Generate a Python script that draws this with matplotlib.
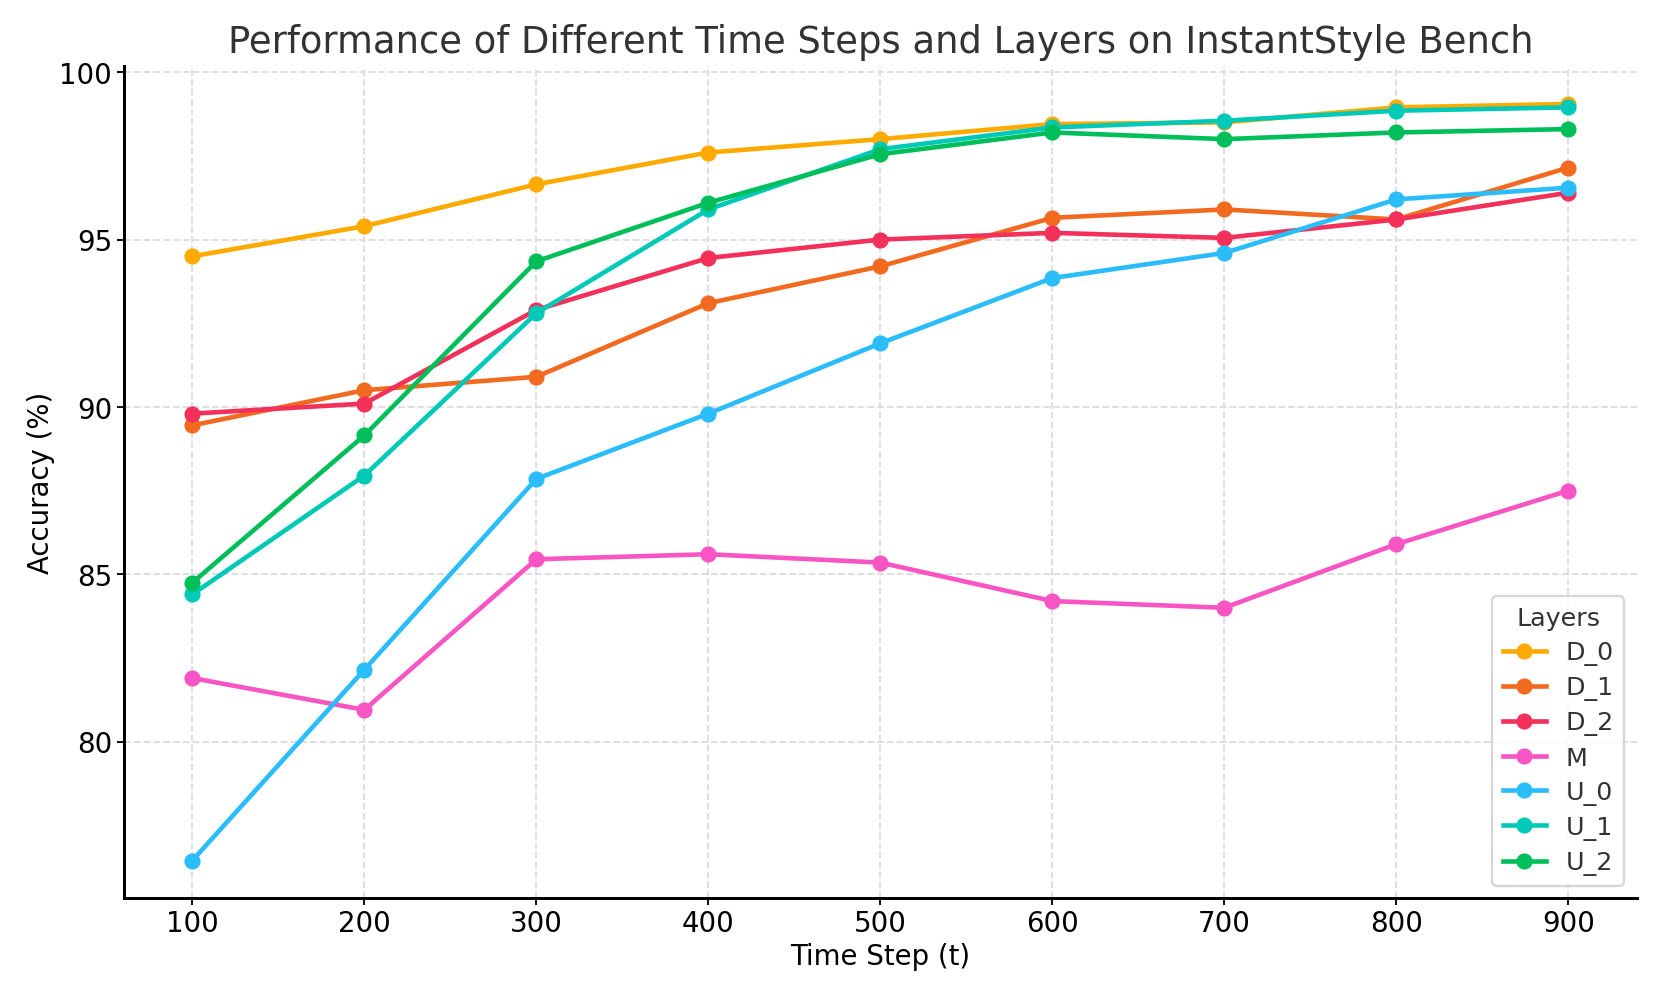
import numpy as np
import matplotlib.pyplot as plt

# time steps
steps = [100, 200, 300, 400, 500, 600, 700, 800, 900]

# accuracy per layer (%)
d0 = [94.5, 95.4, 96.65, 97.6, 98.0, 98.45, 98.5, 98.95, 99.05]
d1 = [89.45, 90.5, 90.9, 93.1, 94.2, 95.65, 95.9, 95.6, 97.15]
d2 = [89.8, 90.1, 92.9, 94.45, 95.0, 95.2, 95.05, 95.6, 96.4]
m = [81.9, 80.95, 85.45, 85.6, 85.35, 84.2, 84.0, 85.9, 87.5]
u0 = [76.45, 82.15, 87.85, 89.8, 91.9, 93.85, 94.6, 96.2, 96.55]
u1 = [84.4, 87.95, 92.8, 95.9, 97.7, 98.35, 98.55, 98.85, 98.95]
u2 = [84.75, 89.15, 94.35, 96.1, 97.55, 98.2, 98.0, 98.2, 98.3]

layers = ["D_0", "D_1", "D_2", "M", "U_0", "U_1", "U_2"]
series = [d0, d1, d2, m, u0, u1, u2]
colors = ["#ffaa00", "#f26a1f", "#f2305a", "#f755c4", "#2bbcfa", "#00c9b8", "#00bf5a"]

fig, ax = plt.subplots(figsize=(10, 6), dpi=166.1)
fig.subplots_adjust(left=0.0744, right=0.9856, top=0.933, bottom=0.098)

for name, vals, c in zip(layers, series, colors):
    ax.plot(steps, vals, marker="o", color=c, linewidth=2, markersize=6, label=name)

ax.set_title("Performance of Different Time Steps and Layers on InstantStyle Bench",
             fontsize=16, color="#333333")
ax.set_xlabel("Time Step (t)", fontsize=12, labelpad=2)
ax.set_ylabel("Accuracy (%)", fontsize=12, labelpad=2)
ax.set_xticks(steps)
ax.tick_params(labelsize=12, pad=2, length=3)
ax.grid(True, linestyle="--", color="#dddddd", linewidth=0.8)
ax.spines["top"].set_visible(False)
ax.spines["right"].set_visible(False)
ax.spines["left"].set_linewidth(1.3)
ax.spines["bottom"].set_linewidth(1.3)

leg = ax.legend(title="Layers", loc="lower right", fontsize=11, title_fontsize=11,
                labelspacing=0.4, handlelength=1.7, edgecolor="#cccccc")
for t in leg.get_texts():
    t.set_color("#333333")
leg.get_title().set_color("#333333")

plt.savefig("out.png")
